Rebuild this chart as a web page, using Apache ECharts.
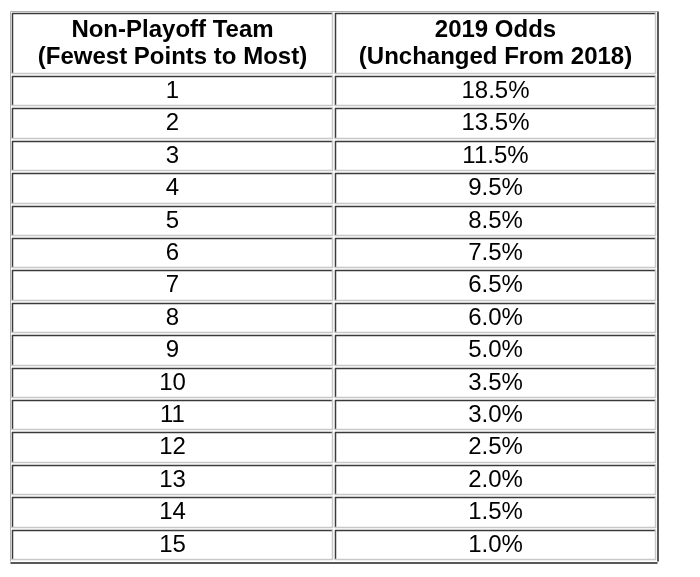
<!DOCTYPE html>
<html>
<head>
<meta charset="utf-8">
<script src="https://cdn.jsdelivr.net/npm/echarts@6/dist/echarts.min.js"></script>
<style>
  html, body { margin: 0; padding: 0; background: #ffffff; }
  #chart { width: 700px; height: 577px; }
</style>
</head>
<body>
<div id="chart"></div>
<script>
// ---- data ----
const columnHeaders = ['Non-Playoff Team\n(Fewest Points to Most)', '2019 Odds\n(Unchanged From 2018)'];
const teams = ['1', '2', '3', '4', '5', '6', '7', '8', '9', '10', '11', '12', '13', '14', '15'];
const odds = [18.5, 13.5, 11.5, 9.5, 8.5, 7.5, 6.5, 6.0, 5.0, 3.5, 3.0, 2.5, 2.0, 1.5, 1.0];

// ---- layout constants ----
const HEADER_SPAN = 1.944; // header row height in data-row units
const FONT = '"Liberation Sans", Arial, Helvetica, sans-serif';
const DARK = '#3a3a3a';
const LIGHT = '#c8c8c8';

// build cell list: [col, rowStart, rowEnd]
const cells = [];
const cellText = [];
const cellHeader = [];
columnHeaders.forEach((h, c) => {
  cells.push([c, 0, HEADER_SPAN]);
  cellText.push(h);
  cellHeader.push(true);
});
teams.forEach((t, i) => {
  const y0 = HEADER_SPAN + i;
  cells.push([0, y0, y0 + 1]);
  cellText.push(t);
  cellHeader.push(false);
  cells.push([1, y0, y0 + 1]);
  cellText.push(odds[i].toFixed(1) + '%');
  cellHeader.push(false);
});

const chart = echarts.init(document.getElementById('chart'), null, { renderer: 'canvas' });

function renderItem(params, api) {
  const c = api.value(0);
  const p0 = api.coord([c, api.value(1)]);
  const p1 = api.coord([c, api.value(2)]);
  const bw = api.size([1, 0])[0];
  const x0 = Math.round(p0[0] - bw / 2) + 1;
  const x1 = Math.round(p0[0] + bw / 2) - 1;
  const y0 = Math.round(p0[1]) + 1;
  const y1 = Math.round(p1[1]) - 1;
  const isHeader = cellHeader[params.dataIndex];
  return {
    type: 'group',
    children: [
      { type: 'rect', shape: { x: x0, y: y0, width: x1 - x0, height: y1 - y0 }, style: { fill: '#ffffff' } },
      { type: 'line', shape: { x1: x0, y1: y0 + 0.5, x2: x1, y2: y0 + 0.5 }, style: { stroke: DARK, lineWidth: 1.5 } },
      { type: 'line', shape: { x1: x0 + 0.5, y1: y0, x2: x0 + 0.5, y2: y1 }, style: { stroke: DARK, lineWidth: 1.5 } },
      { type: 'line', shape: { x1: x0, y1: y1 - 0.5, x2: x1, y2: y1 - 0.5 }, style: { stroke: LIGHT, lineWidth: 1.5 } },
      { type: 'line', shape: { x1: x1 - 0.5, y1: y0, x2: x1 - 0.5, y2: y1 }, style: { stroke: LIGHT, lineWidth: 1.5 } },
      {
        type: 'text',
        x: (x0 + x1) / 2,
        y: (y0 + y1) / 2,
        style: {
          text: cellText[params.dataIndex],
          fill: '#000000',
          font: (isHeader ? 'bold ' : '') + '24px ' + FONT,
          lineHeight: 27,
          align: 'center',
          verticalAlign: 'middle'
        }
      }
    ]
  };
}

const hiddenAxisParts = {
  axisTick: { show: false },
  axisLabel: { show: false },
  splitLine: { show: false }
};

chart.setOption({
  animation: false,
  backgroundColor: '#ffffff',
  grid: { left: 11, right: 43, top: 12, bottom: 16 },
  xAxis: [
    Object.assign({ type: 'category', data: [0, 1], position: 'bottom', offset: 2,
      axisLine: { show: true, onZero: false, lineStyle: { color: '#222222', width: 1.5 } } }, hiddenAxisParts),
    Object.assign({ type: 'category', data: [0, 1], position: 'top', offset: 1,
      axisLine: { show: true, onZero: false, lineStyle: { color: '#b0b0b0', width: 1 } } }, hiddenAxisParts)
  ],
  yAxis: [
    Object.assign({ type: 'value', min: 0, max: HEADER_SPAN + teams.length, inverse: true, position: 'left', offset: 1,
      axisLine: { show: true, onZero: false, lineStyle: { color: '#b0b0b0', width: 1 } } }, hiddenAxisParts),
    Object.assign({ type: 'value', min: 0, max: HEADER_SPAN + teams.length, inverse: true, position: 'right', offset: 1,
      axisLine: { show: true, onZero: false, lineStyle: { color: '#222222', width: 1.5 } } }, hiddenAxisParts)
  ],
  series: [{
    type: 'custom',
    renderItem: renderItem,
    xAxisIndex: 0,
    yAxisIndex: 0,
    encode: { x: 0, y: [1, 2] },
    data: cells
  }]
});
</script>
</body>
</html>
